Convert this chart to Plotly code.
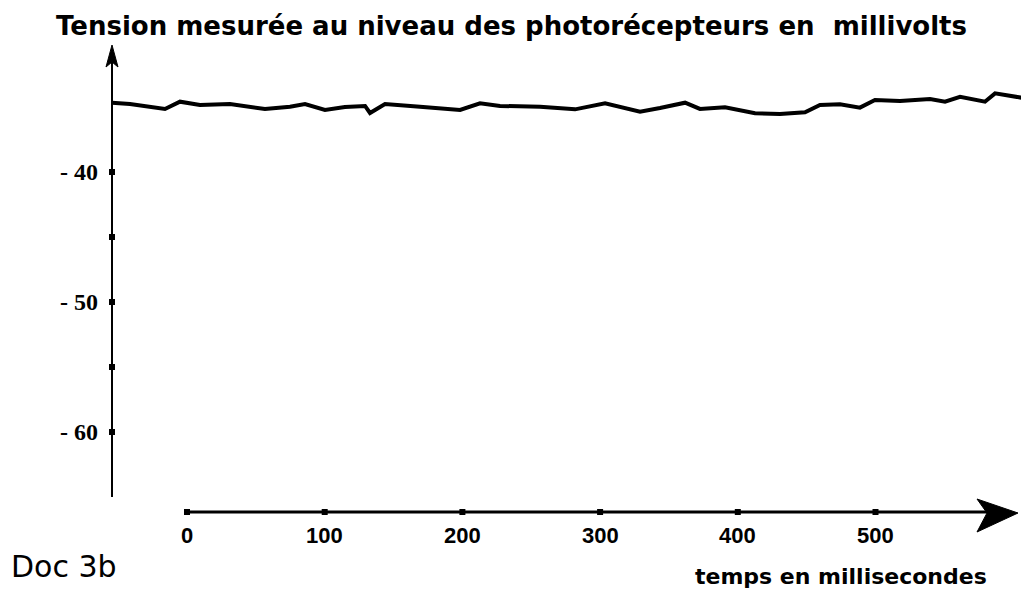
import plotly.graph_objects as go

# ---- data ----
time_ms = [-54.5, -41.4, -16.0, -5.1, 9.4, 31.2, 56.6, 74.8, 85.7, 100.2, 114.7, 129.3,
           132.9, 143.8, 169.2, 198.3, 212.8, 227.3, 256.4, 281.8, 303.6, 329.0, 343.5,
           361.7, 372.5, 390.7, 412.5, 430.6, 448.8, 459.7, 474.2, 488.7, 499.6, 517.8,
           539.6, 550.5, 561.4, 579.5, 586.8, 611.5]
tension_mv = [-34.67, -34.77, -35.15, -34.59, -34.85, -34.77, -35.15, -34.98, -34.77, -35.23,
              -35.00, -34.92, -35.46, -34.77, -34.98, -35.23, -34.72, -34.92, -34.98, -35.18,
              -34.72, -35.36, -35.08, -34.67, -35.15, -35.02, -35.48, -35.54, -35.41, -34.85,
              -34.79, -35.05, -34.46, -34.54, -34.38, -34.59, -34.21, -34.59, -33.95, -34.38]

x_ticks = [0, 100, 200, 300, 400, 500]
y_tick_marks = [-40, -45, -50, -55, -60]
y_tick_labels = [-40, -50, -60]

title_text = "Tension mesurée au niveau des photorécepteurs en  millivolts"
x_title = "temps en millisecondes"
doc_label = "Doc 3b"

# ---- layout geometry (page pixel <-> data helpers) ----
OFF = 8                          # page body margin
W, H = 1021, 582
X0PX, XSCALE = 187.0, 1.377      # page px of t=0, px per ms
Y40PX, YSCALE = 172.0, 13.0      # page px of -40 mV, px per mV


def t_of(px):
    return (px - X0PX) / XSCALE


def v_of(py):
    return -40.0 - (py - Y40PX) / YSCALE


def paper_x(px):
    return (px - OFF) / W


def paper_y(py):
    return 1 - (py - OFF) / H


y_axis_t = t_of(112)
x_axis_v = v_of(512)

fig = go.Figure()

# trace
fig.add_trace(go.Scatter(x=time_ms, y=tension_mv, mode="lines",
                         line=dict(color="black", width=4),
                         hoverinfo="skip", showlegend=False))

# y axis line
fig.add_trace(go.Scatter(x=[y_axis_t, y_axis_t], y=[v_of(497), v_of(60)], mode="lines",
                         line=dict(color="black", width=2), showlegend=False, hoverinfo="skip"))
# x axis line
fig.add_trace(go.Scatter(x=[t_of(186), t_of(990)], y=[x_axis_v, x_axis_v], mode="lines",
                         line=dict(color="black", width=3), showlegend=False, hoverinfo="skip"))

# tick marks
fig.add_trace(go.Scatter(x=[y_axis_t] * len(y_tick_marks), y=y_tick_marks, mode="markers",
                         marker=dict(symbol="square", size=6, color="black"),
                         showlegend=False, hoverinfo="skip"))
fig.add_trace(go.Scatter(x=x_ticks, y=[x_axis_v] * len(x_ticks), mode="markers",
                         marker=dict(symbol="square", size=6, color="black"),
                         showlegend=False, hoverinfo="skip"))


def path(points):
    return "M " + " L ".join(f"{t_of(px)},{v_of(py)}" for px, py in points) + " Z"


fig.add_shape(type="path", path=path([(112, 45), (106, 67), (112, 62), (118, 67)]),
              fillcolor="black", line=dict(color="black", width=1), xref="x", yref="y")
fig.add_shape(type="path", path=path([(1018, 513), (977, 499), (987, 513), (977, 532)]),
              fillcolor="black", line=dict(color="black", width=1), xref="x", yref="y")

annotations = []
for v in y_tick_labels:
    annotations.append(dict(x=y_axis_t, y=v, xref="x", yref="y", text=f"<b>- {abs(v)}</b>",
                            showarrow=False, xanchor="right", yanchor="middle", xshift=-12,
                            font=dict(family="Liberation Serif", size=24, color="black")))
for t in x_ticks:
    annotations.append(dict(x=t, y=x_axis_v, xref="x", yref="y", text=f"<b>{t}</b>",
                            showarrow=False, xanchor="center", yanchor="top", yshift=-9,
                            font=dict(family="Liberation Sans", size=22, color="black")))

annotations.append(dict(x=paper_x(511), y=paper_y(26), xref="paper", yref="paper",
                        text=f"<b>{title_text}</b>", showarrow=False,
                        xanchor="center", yanchor="middle",
                        font=dict(family="DejaVu Sans", size=26, color="black")))
annotations.append(dict(x=paper_x(841), y=paper_y(576), xref="paper", yref="paper",
                        text=f"<b>{x_title}</b>", showarrow=False,
                        xanchor="center", yanchor="middle",
                        font=dict(family="DejaVu Sans", size=22, color="black")))
annotations.append(dict(x=paper_x(64), y=paper_y(566), xref="paper", yref="paper",
                        text=doc_label, showarrow=False,
                        xanchor="center", yanchor="middle",
                        font=dict(family="DejaVu Sans", size=30, color="black")))

fig.update_layout(
    width=W, height=H,
    margin=dict(l=0, r=0, t=0, b=0),
    paper_bgcolor="white", plot_bgcolor="white",
    xaxis=dict(range=[t_of(OFF), t_of(OFF + W)], visible=False, fixedrange=True),
    yaxis=dict(range=[v_of(OFF + H), v_of(OFF)], visible=False, fixedrange=True),
    annotations=annotations,
    showlegend=False,
)

fig.write_html("out.html")
